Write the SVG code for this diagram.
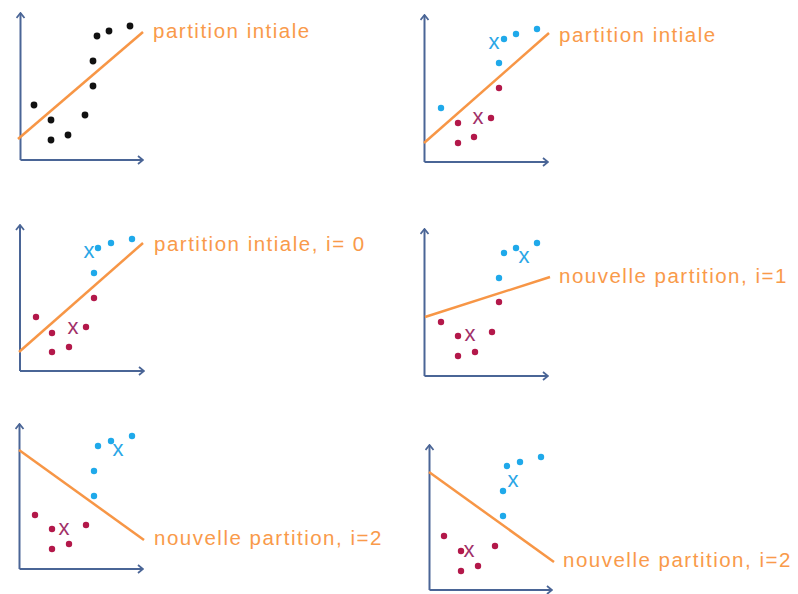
<svg xmlns="http://www.w3.org/2000/svg" width="798" height="594" viewBox="0 0 798 594">
<style>
.ax{stroke:#4A6596;stroke-width:2;fill:none;marker-end:url(#arr)}
.sep{stroke:#F79646;stroke-width:2.5;fill:none}
.lbl{font-family:"Liberation Sans",Arial,sans-serif;font-size:20.5px;fill:#F99A4A;letter-spacing:1.5px}
.k{fill:#111}
.b{fill:#1FA9EA}
.r{fill:#B3184A}
.xb{font-family:"Liberation Sans",Arial,sans-serif;font-size:22px;fill:#2AA6E6;text-anchor:middle}
.xr{font-family:"Liberation Sans",Arial,sans-serif;font-size:22px;fill:#A13068;text-anchor:middle}
</style>
<defs>
<marker id="arr" viewBox="0 0 10 10" refX="9" refY="5" markerWidth="10" markerHeight="10" markerUnits="userSpaceOnUse" orient="auto">
<polyline points="4,1 9,5 4,9" fill="none" stroke="#4A6596" stroke-width="1.8"/>
</marker>
</defs>
<rect width="798" height="594" fill="#fff"/>
<g id="connectors">
<path class="ax" d="M20.5,160 V13"/><path class="ax" d="M20.5,160 H143"/>
<path class="ax" d="M424.5,162 V15"/><path class="ax" d="M424.5,162 H548"/>
<path class="ax" d="M20,371 V225"/><path class="ax" d="M20,371 H144"/>
<path class="ax" d="M424.5,376 V229"/><path class="ax" d="M424.5,376 H548"/>
<path class="ax" d="M19.5,569 V424"/><path class="ax" d="M19.5,569 H143"/>
<path class="ax" d="M429.5,590 V445"/><path class="ax" d="M429.5,590 H552"/>
</g>
<g id="panel1">
<line class="sep" x1="18" y1="139" x2="143" y2="32"/>
<circle class="k" cx="34" cy="105" r="3.4"/><circle class="k" cx="51" cy="120" r="3.4"/><circle class="k" cx="51" cy="140" r="3.4"/>
<circle class="k" cx="68" cy="135" r="3.4"/><circle class="k" cx="85" cy="115" r="3.4"/><circle class="k" cx="93" cy="86" r="3.4"/>
<circle class="k" cx="93" cy="61" r="3.4"/><circle class="k" cx="97" cy="36" r="3.4"/><circle class="k" cx="109" cy="31" r="3.4"/>
<circle class="k" cx="130" cy="26" r="3.4"/>
<text class="lbl" x="153" y="38">partition intiale</text>
</g>
<g id="panel2">
<line class="sep" x1="424" y1="143" x2="549" y2="33"/>
<circle class="b" cx="441" cy="108" r="3.2"/><circle class="b" cx="499" cy="63" r="3.2"/><circle class="b" cx="504" cy="39" r="3.2"/>
<circle class="b" cx="516" cy="34" r="3.2"/><circle class="b" cx="537" cy="29" r="3.2"/>
<circle class="r" cx="458" cy="123" r="3.2"/><circle class="r" cx="458" cy="143" r="3.2"/><circle class="r" cx="474" cy="137" r="3.2"/>
<circle class="r" cx="491" cy="118" r="3.2"/><circle class="r" cx="499" cy="88" r="3.2"/>
<text class="xb" x="494" y="49">x</text>
<text class="xr" x="478" y="124">x</text>
<text class="lbl" x="559" y="42">partition intiale</text>
</g>
<g id="panel3">
<line class="sep" x1="19" y1="352" x2="143" y2="243"/>
<circle class="b" cx="94" cy="273" r="3.2"/><circle class="b" cx="98" cy="248" r="3.2"/><circle class="b" cx="111" cy="243" r="3.2"/>
<circle class="b" cx="132" cy="239" r="3.2"/>
<circle class="r" cx="36" cy="317" r="3.2"/><circle class="r" cx="52" cy="333" r="3.2"/><circle class="r" cx="52" cy="352" r="3.2"/>
<circle class="r" cx="69" cy="347" r="3.2"/><circle class="r" cx="86" cy="327" r="3.2"/><circle class="r" cx="94" cy="298" r="3.2"/>
<text class="xb" x="89" y="258">x</text>
<text class="xr" x="73" y="334">x</text>
<text class="lbl" x="154" y="251">partition intiale, i= 0</text>
</g>
<g id="panel4">
<line class="sep" x1="425" y1="317" x2="550" y2="277"/>
<circle class="b" cx="499" cy="278" r="3.2"/><circle class="b" cx="504" cy="253" r="3.2"/><circle class="b" cx="516" cy="248" r="3.2"/>
<circle class="b" cx="537" cy="243" r="3.2"/>
<circle class="r" cx="441" cy="322" r="3.2"/><circle class="r" cx="458" cy="336" r="3.2"/><circle class="r" cx="458" cy="356" r="3.2"/>
<circle class="r" cx="475" cy="352" r="3.2"/><circle class="r" cx="492" cy="332" r="3.2"/><circle class="r" cx="499" cy="302" r="3.2"/>
<text class="xb" x="524" y="263">x</text>
<text class="xr" x="470" y="341">x</text>
<text class="lbl" x="559" y="283">nouvelle partition, i=1</text>
</g>
<g id="panel5">
<line class="sep" x1="19" y1="450" x2="144" y2="540"/>
<circle class="b" cx="94" cy="496" r="3.2"/><circle class="b" cx="94" cy="471" r="3.2"/><circle class="b" cx="98" cy="446" r="3.2"/>
<circle class="b" cx="111" cy="441" r="3.2"/><circle class="b" cx="132" cy="436" r="3.2"/>
<circle class="r" cx="35" cy="515" r="3.2"/><circle class="r" cx="52" cy="529" r="3.2"/><circle class="r" cx="52" cy="549" r="3.2"/>
<circle class="r" cx="69" cy="544" r="3.2"/><circle class="r" cx="86" cy="525" r="3.2"/>
<text class="xb" x="118" y="456">x</text>
<text class="xr" x="64" y="535">x</text>
<text class="lbl" x="154" y="545">nouvelle partition, i=2</text>
</g>
<g id="panel6">
<line class="sep" x1="429" y1="472" x2="554" y2="562"/>
<circle class="b" cx="503" cy="516" r="3.2"/><circle class="b" cx="503" cy="491" r="3.2"/><circle class="b" cx="507" cy="466" r="3.2"/>
<circle class="b" cx="520" cy="462" r="3.2"/><circle class="b" cx="541" cy="457" r="3.2"/>
<circle class="r" cx="444" cy="536" r="3.2"/><circle class="r" cx="461" cy="551" r="3.2"/><circle class="r" cx="461" cy="571" r="3.2"/>
<circle class="r" cx="478" cy="566" r="3.2"/><circle class="r" cx="495" cy="546" r="3.2"/>
<text class="xb" x="513" y="487">x</text>
<text class="xr" x="469" y="557">x</text>
<text class="lbl" x="563" y="567">nouvelle partition, i=2</text>
</g>
</svg>
